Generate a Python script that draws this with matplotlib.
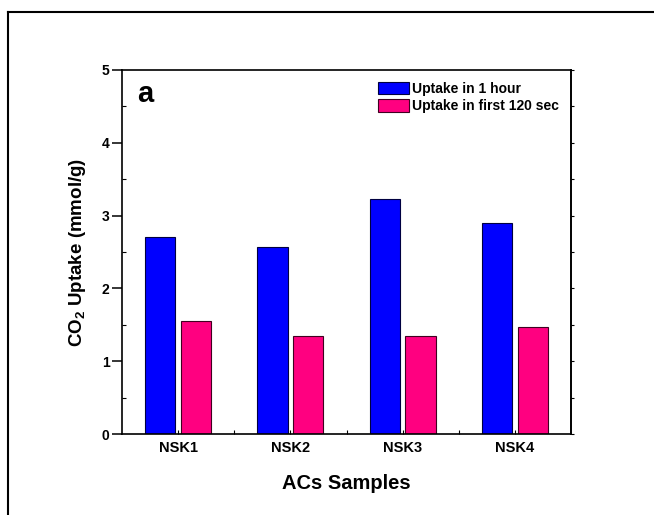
# CO2 uptake bar chart: 1 hour vs first 120 sec for four AC samples.

import numpy as np
import matplotlib
matplotlib.use("Agg")
import matplotlib.pyplot as plt
from matplotlib.lines import Line2D
from matplotlib.ticker import MultipleLocator, FixedLocator

plt.rcParams["font.family"] = ["Liberation Sans", "DejaVu Sans"]
plt.rcParams["font.weight"] = "bold"
plt.rcParams["mathtext.fontset"] = "custom"
plt.rcParams["mathtext.rm"] = "Liberation Sans:bold"
plt.rcParams["mathtext.default"] = "rm"

# Data

samples = ["NSK1", "NSK2", "NSK3", "NSK4"]
uptake_1h = [2.71, 2.57, 3.23, 2.90]
uptake_120s = [1.55, 1.35, 1.34, 1.47]
series_labels = ["Uptake in 1 hour", "Uptake in first 120 sec"]

BLUE = "#0000FF"
PINK = "#FF0080"

W_PX, H_PX = 654, 515
fig = plt.figure(figsize=(W_PX / 100, H_PX / 100), dpi=100)

# axes placed in pixel coords
ax_l, ax_r, ax_t, ax_b = 122, 571, 70, 434
ax = fig.add_axes([ax_l / W_PX, (H_PX - ax_b) / H_PX,
                   (ax_r - ax_l) / W_PX, (ax_b - ax_t) / H_PX])

x = np.arange(1, len(samples) + 1)
bw = 0.27
ax.bar(x - 0.16, uptake_1h, bw, color=BLUE, edgecolor="#000040",
       linewidth=0.8, label=series_labels[0])
ax.bar(x + 0.16, uptake_120s, bw, color=PINK, edgecolor="#400020",
       linewidth=0.8, label=series_labels[1])

ax.set_xlim(0.5, 4.5)
ax.set_ylim(0, 5)
ax.set_xticks(x)
ax.set_xticklabels(samples)
ax.xaxis.set_minor_locator(FixedLocator([1.5, 2.5, 3.5]))
ax.yaxis.set_major_locator(MultipleLocator(1))
ax.yaxis.set_minor_locator(MultipleLocator(0.5))

for sp in ax.spines.values():
    sp.set_linewidth(1.2)

ax.tick_params(axis="y", which="major", direction="out", length=7, width=1.1,
               labelsize=10, pad=2)
ax.tick_params(axis="y", which="minor", direction="in", length=3, width=0.8)
ax.tick_params(axis="x", which="both", direction="in", length=3, width=0.8,
               labelsize=10.5, pad=5)

# small outward marks on the right spine
sec = ax.secondary_yaxis("right")
sec.yaxis.set_major_locator(MultipleLocator(0.5))
sec.tick_params(direction="out", length=2, width=0.8, labelright=False)
sec.spines["right"].set_linewidth(1.2)

ax.set_ylabel("CO$_2$ Uptake (mmol/g)", fontsize=13.5, fontweight="bold",
              labelpad=10)
ax.set_xlabel("ACs Samples", fontsize=14.5, fontweight="bold", labelpad=14)

ax.text(0.033, 0.912, "a", transform=ax.transAxes, fontsize=21,
        fontweight="bold", va="baseline", ha="left")

ax.legend(loc="upper right", bbox_to_anchor=(1.0, 1.0), frameon=False,
          fontsize=10, handlelength=2.2, handleheight=1.0,
          handletextpad=0.25, labelspacing=0.25, borderaxespad=0.45)

# outer frame (only top and left edges fall inside the image)
fig.add_artist(Line2D([8 / W_PX, 1.0], [1 - 12 / H_PX, 1 - 12 / H_PX],
                      transform=fig.transFigure, color="black", lw=1.5))
fig.add_artist(Line2D([8 / W_PX, 8 / W_PX], [0.0, 1 - 12 / H_PX],
                      transform=fig.transFigure, color="black", lw=1.5))

fig.savefig("out.png", dpi=100)
